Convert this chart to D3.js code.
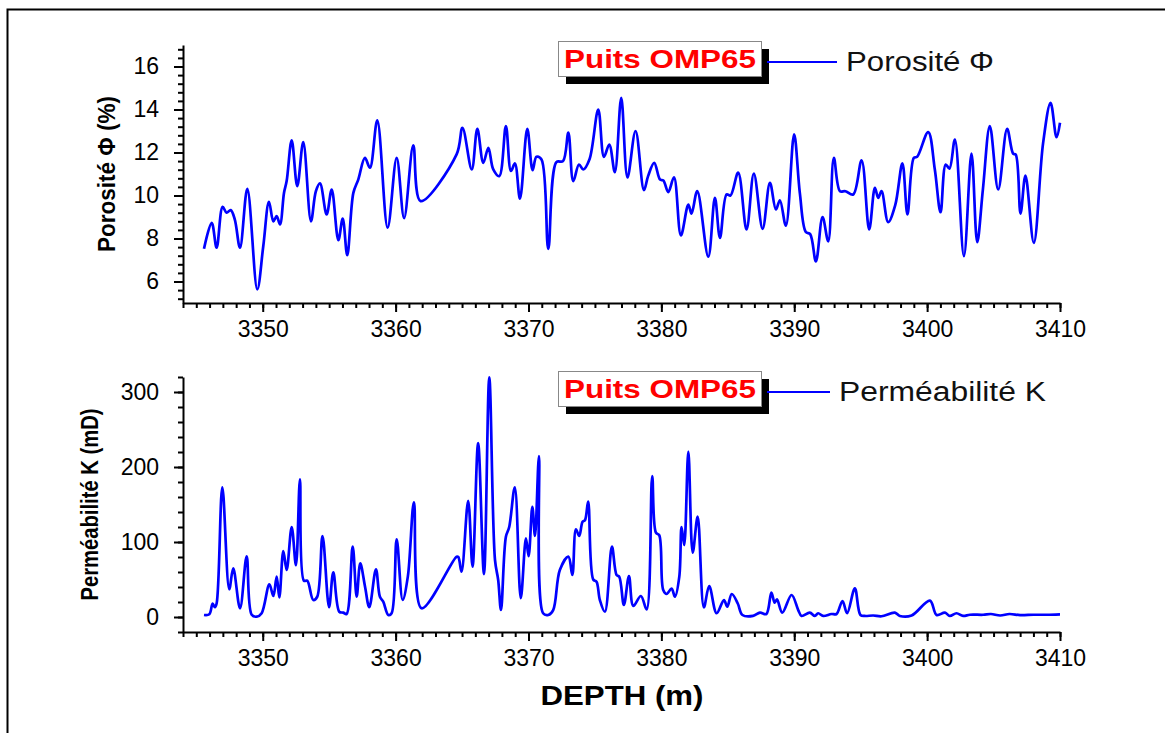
<!DOCTYPE html>
<meta charset="utf-8">
<script src="https://cdn.jsdelivr.net/npm/d3@7"></script>
<style>
body { margin: 0; background: #fff; }
text { font-family: "Liberation Sans", Arial, sans-serif; }
.axis path, .axis line { stroke: #000; stroke-width: 2px; }
.axis text { font-size: 23px; fill: #000; }
.curve { fill: none; stroke: #0000ff; stroke-width: 2.7px; stroke-linejoin: round; }
</style>
<body>
<div id="chart"></div>
<script>
// porosity log (depth in m, porosity in %)
var depthPhi = [3345.58,3346.16,3346.53,3346.98,3347.28,3347.59,3347.9,3348.29,3348.84,3349.59,3350.04,3350.47,3350.8,3351.05,3351.3,3351.6,3351.8,3352.18,3352.6,3353.05,3353.63,3354.0,3354.31,3354.81,3355.19,3355.69,3356.02,3356.36,3356.82,3357.19,3357.69,3358.07,3358.62,3359.4,3360.08,3360.64,3361.33,3361.88,3364.59,3365.03,3365.73,3366.15,3366.6,3366.98,3367.35,3367.8,3368.3,3368.68,3368.98,3369.36,3369.91,3370.31,3370.6,3370.98,3371.49,3372.1,3372.6,3373.0,3373.37,3373.8,3374.12,3374.6,3375.25,3375.68,3376.08,3376.5,3376.98,3377.45,3378.06,3378.69,3379.0,3379.46,3379.9,3380.15,3380.52,3380.95,3381.47,3382.03,3382.27,3382.7,3383.53,3384.03,3384.41,3384.91,3385.2,3385.78,3386.41,3386.96,3387.62,3388.17,3388.62,3388.92,3389.37,3389.99,3390.42,3390.87,3391.2,3391.63,3392.13,3392.56,3392.98,3393.44,3393.85,3394.44,3395.07,3395.64,3396.07,3396.32,3396.57,3397.07,3397.6,3398.14,3398.52,3399.0,3399.25,3400.08,3400.58,3401.01,3401.4,3401.68,3402.09,3402.77,3403.34,3403.77,3404.2,3404.72,3405.35,3406.02,3406.47,3406.67,3407.03,3407.4,3408.03,3408.73,3409.29,3409.74,3410.0]
var phi = [7.52,8.73,7.57,9.47,9.2,9.32,8.88,7.57,10.31,5.63,7.64,9.71,8.8,9.04,8.65,10.12,10.67,12.56,10.43,12.48,8.8,10.2,10.56,9.12,10.28,7.92,8.93,7.22,10.12,10.74,11.75,11.29,13.49,8.5,11.75,8.95,12.33,9.74,11.91,13.15,11.21,13.1,11.52,12.22,11.21,10.9,13.23,11.14,11.49,9.85,13.1,11.18,11.8,11.67,7.52,11.55,11.6,12.92,10.67,11.44,11.21,11.7,14.0,11.8,12.37,11.09,14.54,10.84,13.0,10.25,10.9,11.52,10.74,10.7,10.16,10.85,8.14,9.58,9.16,10.2,7.15,9.89,8.03,10.05,10.0,11.06,8.42,11.02,8.45,10.59,9.35,9.78,8.6,12.84,10.12,8.3,8.2,6.94,9.0,7.87,11.75,10.2,10.2,10.05,11.64,8.42,10.36,9.89,10.2,8.76,9.55,11.49,9.12,11.75,11.8,12.95,11.21,9.22,11.44,11.25,12.6,7.18,11.95,7.83,10.3,13.23,10.28,13.1,11.95,11.9,9.16,10.93,7.8,12.45,14.31,12.71,13.38]

// permeability log (depth in m, K in mD)
var depthK = [3345.58,3345.98,3346.23,3346.4,3346.53,3346.96,3347.48,3347.78,3348.29,3348.79,3349.17,3349.55,3349.92,3350.5,3350.8,3351.05,3351.25,3351.55,3351.8,3352.18,3352.5,3352.8,3353.1,3353.35,3353.8,3354.1,3354.5,3354.99,3355.31,3355.76,3356.06,3356.31,3356.77,3357.07,3357.34,3357.7,3358.02,3358.52,3358.82,3359.07,3359.45,3359.7,3360.08,3360.53,3360.92,3361.38,3361.96,3364.59,3364.72,3364.96,3365.46,3365.79,3366.21,3366.65,3367.05,3367.48,3367.72,3367.93,3368.3,3368.55,3368.97,3369.42,3369.81,3370.01,3370.29,3370.49,3370.79,3371.1,3371.49,3371.86,3372.36,3373.0,3373.3,3373.57,3373.82,3374.07,3374.25,3374.49,3374.87,3375.12,3375.37,3375.75,3376.28,3376.63,3376.83,3377.18,3377.56,3377.89,3378.46,3378.89,3379.31,3379.59,3379.84,3380.14,3380.4,3380.77,3381.02,3381.35,3381.52,3381.72,3382.03,3382.36,3382.73,3383.2,3383.6,3384.16,3384.71,3384.96,3385.3,3385.75,3386.1,3386.9,3387.42,3387.9,3388.28,3388.53,3388.7,3389.1,3389.8,3390.3,3390.55,3391.17,3391.55,3391.8,3392.18,3392.8,3393.18,3393.63,3393.98,3394.56,3394.98,3395.32,3395.94,3396.57,3397.57,3397.95,3398.83,3400.21,3400.71,3401.34,3401.71,3402.21,3402.71,3403.22,3404.22,3404.8,3405.5,3406.2,3407.0,3408.0,3409.0,3410.0]
var perm = [2.7,3.6,18,13,18,173,37,65,11.6,81,3,0.4,5,43.6,28,53.8,26,88,62.7,120,69,183.6,48.4,48.4,22.7,27,108,13,59.6,7,5.8,4,93.8,27,71.6,40.4,13,63.6,27,20.4,2.7,5,103.6,22.7,53.8,153,11.6,80.4,80,60.4,155,67,232,57.3,319.6,76,49.3,9.3,107,120,173,25,105,81,147,108,214.7,5,2.7,9.3,62.7,80.4,56,117,108,127,129,153.8,50,47,22.7,7,93.8,56,53.8,16,54.7,14.7,28,10,188,112.4,109,36,30.7,38,27,53.8,120,96,220.4,85.8,133.8,13,41.3,5,22.7,13.8,30.7,18,2.7,1.4,5.8,4,32.4,19,23.6,5.8,29.3,9.3,1.4,5.8,1.4,5,1.4,4,4,21.3,5,38.2,2.7,1.4,2,1,5.8,1.4,2,21.8,2.7,5.8,1.4,5,1.4,3,3,4,2,4,2.5,3,3,3.6]

var depthTicks = [3350, 3360, 3370, 3380, 3390, 3400, 3410]
var phiTicks = [6, 8, 10, 12, 14, 16]
var permTicks = [0, 100, 200, 300]

var wellName = "Puits OMP65"
var phiLegend = "Porosité Φ"
var permLegend = "Perméabilité K"
var phiTitle = "Porosité Φ (%)"
var permTitle = "Perméabilité K (mD)"
var depthTitle = "DEPTH (m)"

width = 1165
height = 733

svg = d3.select("#chart")
        .append("svg")
        .attr("width", width)
        .attr("height", height)

// outer frame
svg.append("rect")
  .attr("x", 7.5)
  .attr("y", 9.5)
  .attr("width", width + 20)
  .attr("height", height + 20)
  .attr("fill", "none")
  .attr("stroke", "#000")
  .attr("stroke-width", 2)

xScale = d3.scaleLinear()
        .domain([3344, 3410])
        .range([183, 1060])

yPhi = d3.scaleLinear()
        .domain([5, 17])
        .range([303, 45])

yPerm = d3.scaleLinear()
        .domain([-20, 320])
        .range([632, 377])

function drawPanel(yScale, yTicks, yMinor, xVals, yVals, title, titleX, titleLen, legendTop, lineEnd, legendText, legendWidth) {
  var yBottom = yScale.range()[0]
  var yTop = yScale.range()[1]

  // minor ticks first
  svg.append("g")
    .attr("class", "axis")
    .attr("transform", "translate(0," + yBottom + ")")
    .call(d3.axisBottom(xScale).tickValues(d3.range(3344, 3410.5, 1)).tickSize(5).tickSizeOuter(0).tickFormat(""))
    .select("path").remove()

  svg.append("g")
    .attr("class", "axis")
    .attr("transform", "translate(183,0)")
    .call(d3.axisLeft(yScale).tickValues(yMinor).tickSize(5).tickSizeOuter(0).tickFormat(""))
    .select("path").remove()

  svg.append("g")
    .attr("class", "axis")
    .attr("transform", "translate(0," + yBottom + ")")
    .call(d3.axisBottom(xScale).tickValues(depthTicks).tickSize(9).tickSizeOuter(0).tickPadding(9).tickFormat(d3.format("d")))

  svg.append("g")
    .attr("class", "axis")
    .attr("transform", "translate(183,0)")
    .call(d3.axisLeft(yScale).tickValues(yTicks).tickSize(9).tickSizeOuter(0).tickPadding(15).tickFormat(d3.format("d")))

  var pts = xVals.map(function(d, i){ return [d, yVals[i]] })
  var line = d3.line()
          .x(function(d){ return xScale(d[0]) })
          .y(function(d){ return yScale(d[1]) })
          .curve(d3.curveCatmullRom.alpha(0.5))

  svg.append("path")
    .datum(pts)
    .attr("class", "curve")
    .attr("d", line)

  // rotated axis title
  svg.append("text")
    .attr("transform", "translate(" + titleX + "," + ((yTop + yBottom) / 2) + ") rotate(-90)")
    .attr("text-anchor", "middle")
    .style("font-weight", "bold")
    .style("font-size", "24px")
    .attr("textLength", titleLen)
    .attr("lengthAdjust", "spacingAndGlyphs")
    .text(title)

  // legend box with shadow
  var lg = svg.append("g")
  lg.append("rect")
    .attr("x", 566).attr("y", legendTop + 8)
    .attr("width", 203).attr("height", 35)
    .attr("fill", "#000")
  lg.append("rect")
    .attr("x", 558.5).attr("y", legendTop + 0.5)
    .attr("width", 203).attr("height", 35)
    .attr("fill", "#fff")
    .attr("stroke", "#888")
    .attr("stroke-width", 1)
  lg.append("text")
    .attr("x", 660).attr("y", legendTop + 27)
    .attr("text-anchor", "middle")
    .attr("fill", "#ff0000")
    .style("font-weight", "bold")
    .style("font-size", "25px")
    .attr("textLength", 192)
    .attr("lengthAdjust", "spacingAndGlyphs")
    .text(wellName)
  lg.append("line")
    .attr("x1", 767).attr("x2", lineEnd)
    .attr("y1", legendTop + 21).attr("y2", legendTop + 21)
    .attr("stroke", "#0000ff")
    .attr("stroke-width", 2)
  lg.append("text")
    .attr("x", lineEnd + 9).attr("y", legendTop + 30)
    .attr("fill", "#111")
    .style("font-size", "27px")
    .attr("textLength", legendWidth)
    .attr("lengthAdjust", "spacingAndGlyphs")
    .text(legendText)
}

drawPanel(yPhi, phiTicks, d3.range(5.2, 17.01, 0.4), depthPhi, phi, phiTitle, 115, 156, 41, 837, phiLegend, 148)
drawPanel(yPerm, permTicks, d3.range(-20, 320.1, 20), depthK, perm, permTitle, 98, 192, 371, 830, permLegend, 207)

svg.append("text")
  .attr("x", 622)
  .attr("y", 705)
  .attr("text-anchor", "middle")
  .style("font-weight", "bold")
  .style("font-size", "28px")
  .attr("textLength", 163)
  .attr("lengthAdjust", "spacingAndGlyphs")
  .text(depthTitle)

</script>
</body>
</html>
